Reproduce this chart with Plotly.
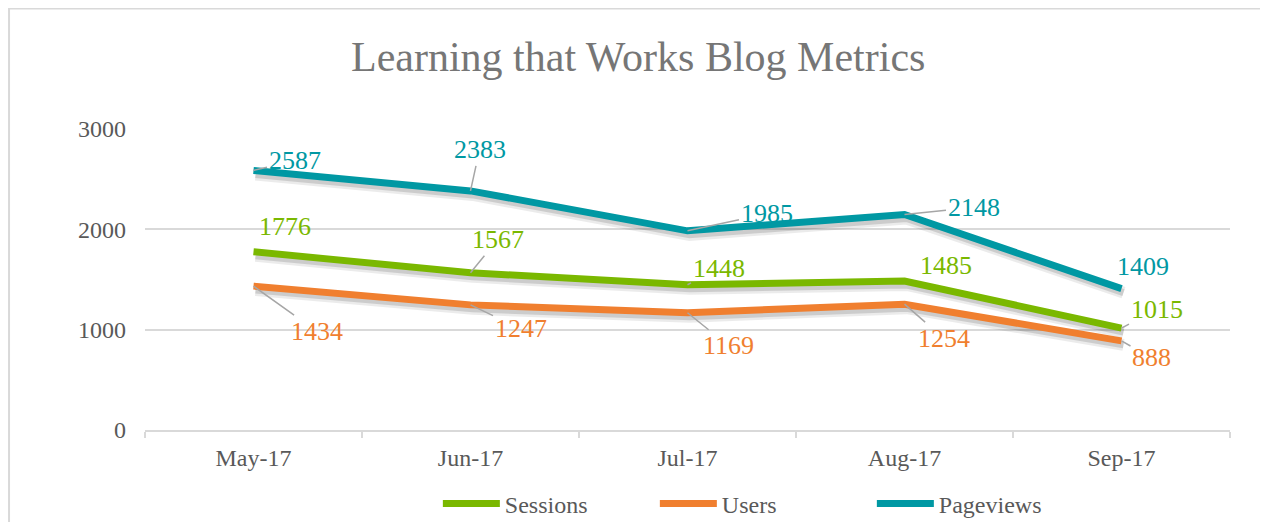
import plotly.graph_objects as go

months = ["May-17", "Jun-17", "Jul-17", "Aug-17", "Sep-17"]
sessions = [1776, 1567, 1448, 1485, 1015]
users = [1434, 1247, 1169, 1254, 888]
pageviews = [2587, 2383, 1985, 2148, 1409]
y_ticks = [0, 1000, 2000, 3000]

title = "Learning that Works Blog Metrics"
colors = {"Sessions": "#7AB800", "Users": "#F07F2F", "Pageviews": "#0098A3"}

# label offsets in pixels (text center relative to point), and whether a leader line is drawn
offsets = {
    "Pageviews": [(41, -10, True), (9, -41, True), (79, -17, True), (69, -7, True), (21, -22, False)],
    "Sessions": [(31, -25, False), (27, -33, True), (31, -16, True), (41, -16, False), (35, -19, True)],
    "Users": [(63, 45, True), (50, 24, True), (41, 33, True), (39, 34, True), (30, 17, True)],
}
series = {"Sessions": sessions, "Users": users, "Pageviews": pageviews}

FONT = "Liberation Serif, Times New Roman, serif"

PLOT_W, PLOT_H = 1085, 301
X_RANGE = [-0.5, 4.5]
Y_RANGE = [0, 3000]
# shadow offset (pixels)
SDX, SDY = 2, 4
dx = SDX * (X_RANGE[1] - X_RANGE[0]) / PLOT_W
dy = SDY * (Y_RANGE[1] - Y_RANGE[0]) / PLOT_H

fig = go.Figure()
# invisible traces on the base axes so categories are registered
for name, vals in series.items():
    fig.add_trace(go.Scatter(
        x=months, y=vals, mode="lines", showlegend=False, hoverinfo="skip",
        line=dict(color="rgba(0,0,0,0)", width=0),
    ))
# soft shadows (shifted through the axis range)
for name, vals in series.items():
    fig.add_trace(go.Scatter(
        x=months, y=vals, mode="lines", showlegend=False, hoverinfo="skip",
        line=dict(color="rgba(0,0,0,0.08)", width=12), xaxis="x2", yaxis="y2",
    ))
for name, vals in series.items():
    fig.add_trace(go.Scatter(
        x=months, y=vals, mode="lines", showlegend=False, hoverinfo="skip",
        line=dict(color="rgba(0,0,0,0.13)", width=7), xaxis="x2", yaxis="y2",
    ))
# main lines
for name, vals in series.items():
    fig.add_trace(go.Scatter(
        x=months, y=vals, name=name, mode="lines",
        line=dict(color=colors[name], width=7), xaxis="x3", yaxis="y3",
    ))

annotations = []
for name, vals in series.items():
    for m, v, (ax, ay, lead) in zip(months, vals, offsets[name]):
        annotations.append(dict(
            x=m, y=v, xref="x", yref="y", text=str(v),
            showarrow=True, arrowhead=0, arrowwidth=1.5,
            arrowcolor="#A6A6A6" if lead else "rgba(0,0,0,0)",
            ax=ax, ay=ay, standoff=0,
            font=dict(family=FONT, size=26, color=colors[name]),
        ))

fig.update_layout(
    width=1268, height=522,
    margin=dict(l=137, r=46, t=121, b=100),
    paper_bgcolor="white", plot_bgcolor="white",
    title=dict(text=title, x=0.497, xanchor="center", y=0.907, yanchor="middle",
               font=dict(family=FONT, size=42, color="#767676")),
    font=dict(family=FONT, color="#595959"),
    showlegend=True,
    legend=dict(orientation="h", x=0.339, xanchor="left", xref="container",
                y=0.05, yanchor="middle", yref="container",
                font=dict(family=FONT, size=24, color="#595959"),
                itemwidth=57, tracegroupgap=0, entrywidth=145),
    annotations=annotations,
    shapes=[dict(type="rect", xref="paper", yref="paper",
                 x0=-0.1253, y0=-0.5, x1=1.2, y1=1.400,
                 line=dict(color="#D9D9D9", width=2), layer="below")],
    xaxis=dict(
        type="category", categoryorder="array", categoryarray=months,
        showgrid=False, showline=True, linecolor="#D9D9D9", linewidth=2,
        ticks="outside", tickson="boundaries", ticklen=6, tickcolor="#D9D9D9", tickwidth=2,
        tickfont=dict(family=FONT, size=24, color="#595959"), ticklabelstandoff=5,
        range=X_RANGE, automargin=False,
    ),
    yaxis=dict(
        range=Y_RANGE, tickvals=y_ticks, showgrid=True, gridcolor="#D9D9D9", gridwidth=1.5,
        zeroline=False, showline=False, automargin=False,
        tickfont=dict(family=FONT, size=24, color="#595959"), ticklabelstandoff=18,
    ),
    xaxis2=dict(type="category", categoryorder="array", categoryarray=months,
                visible=False, overlaying="x", range=[X_RANGE[0] - dx, X_RANGE[1] - dx]),
    yaxis2=dict(visible=False, overlaying="y", anchor="x2",
                range=[Y_RANGE[0] + dy, Y_RANGE[1] + dy]),
    xaxis3=dict(type="category", categoryorder="array", categoryarray=months,
                visible=False, overlaying="x", range=X_RANGE),
    yaxis3=dict(visible=False, overlaying="y", anchor="x3", range=Y_RANGE),
)

fig.write_html("out.html")
